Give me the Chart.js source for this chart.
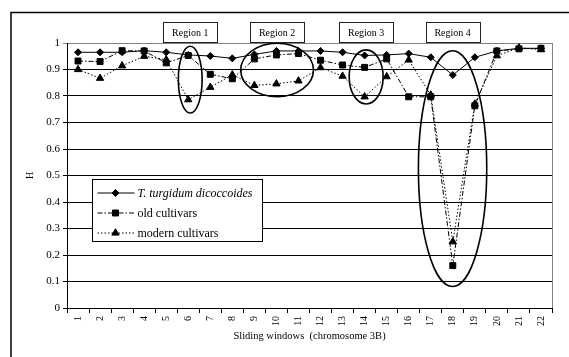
<!DOCTYPE html>
<html>
<head>
<meta charset="utf-8">
<script src="https://cdn.jsdelivr.net/npm/chart.js@4.4.1/dist/chart.umd.min.js"></script>
<style>
    html, body { margin: 0; padding: 0; background: #fff; }
    canvas { display: block; }
</style>
</head>
<body>
<canvas id="hChart" width="569" height="357"></canvas>
<script>
// sliding windows along chromosome 3B
const windows = ['1', '2', '3', '4', '5', '6', '7', '8', '9', '10', '11',
    '12', '13', '14', '15', '16', '17', '18', '19', '20', '21', '22'];

const turgidum = [0.965, 0.965, 0.965, 0.971, 0.965, 0.955, 0.951, 0.942, 0.957, 0.970, 0.970,
    0.970, 0.965, 0.953, 0.955, 0.960, 0.946, 0.879, 0.946, 0.970, 0.980, 0.980];
const oldCultivars = [0.932, 0.930, 0.971, 0.970, 0.925, 0.953, 0.882, 0.865, 0.940, 0.955, 0.960,
    0.935, 0.917, 0.908, 0.940, 0.797, 0.797, 0.160, 0.763, 0.970, 0.978, 0.980];
const modernCultivars = [0.900, 0.867, 0.914, 0.950, 0.937, 0.786, 0.833, 0.880, 0.840, 0.846, 0.857,
    0.907, 0.875, 0.797, 0.873, 0.936, 0.804, 0.250, 0.770, 0.952, 0.982, 0.975];

const seriesNames = ['T. turgidum dicoccoides', 'old cultivars', 'modern cultivars'];

// circled regions: window range and H range they enclose
const regionNames = ['Region 1', 'Region 2', 'Region 3', 'Region 4'];
const regionWinFrom = [5.55, 8.38, 13.30, 16.44];
const regionWinTo = [6.63, 11.68, 14.84, 19.54];
const regionHFrom = [0.736, 0.797, 0.770, 0.081];
const regionHTo = [0.988, 0.999, 0.974, 0.971];

const FONT = '"Liberation Serif", "Times New Roman", serif';

// рамка, регионы, легенда
const decorPlugin = {
    id: 'decor',
    beforeDraw(chart) {
        const ctx = chart.ctx;
        ctx.save();
        ctx.fillStyle = '#fff';
        ctx.fillRect(0, 0, chart.width, chart.height);
        ctx.strokeStyle = '#000';
        ctx.lineWidth = 1.5;
        ctx.strokeRect(11, 12.5, chart.width + 20, chart.height + 20);
        ctx.restore();
    },
    afterDraw(chart) {
        const ctx = chart.ctx;
        const area = chart.chartArea;
        const xs = chart.scales.x;
        const ys = chart.scales.y;
        ctx.save();

        // right border of plot area
        ctx.strokeStyle = '#808080';
        ctx.lineWidth = 1;
        ctx.beginPath();
        ctx.moveTo(Math.round(area.right) + 0.5, area.top);
        ctx.lineTo(Math.round(area.right) + 0.5, area.bottom);
        ctx.stroke();

        // ellipses + region labels
        regionNames.forEach((name, i) => {
            const x1 = xs.getPixelForValue(regionWinFrom[i] - 1);
            const x2 = xs.getPixelForValue(regionWinTo[i] - 1);
            const y1 = ys.getPixelForValue(regionHTo[i]);
            const y2 = ys.getPixelForValue(regionHFrom[i]);
            const cx = (x1 + x2) / 2;
            const cy = (y1 + y2) / 2;
            ctx.strokeStyle = '#000';
            ctx.lineWidth = 1.6;
            ctx.beginPath();
            ctx.ellipse(cx, cy, (x2 - x1) / 2, (y2 - y1) / 2, 0, 0, Math.PI * 2);
            ctx.stroke();

            const bw = 54, bh = 20;
            const bx = Math.round(cx - bw / 2) + 0.5;
            const by = Math.round(area.top - 21) + 0.5;
            ctx.fillStyle = '#fff';
            ctx.fillRect(bx, by, bw, bh);
            ctx.strokeStyle = '#222';
            ctx.lineWidth = 1;
            ctx.strokeRect(bx, by, bw, bh);
            ctx.fillStyle = '#000';
            ctx.font = '10px ' + FONT;
            ctx.textAlign = 'center';
            ctx.textBaseline = 'middle';
            ctx.fillText(name, cx, by + bh / 2 + 0.5);
        });

        // legend box
        const lx = Math.round(area.left + 25) + 0.5;
        const ly = Math.round(area.top + 136) + 0.5;
        const lw = 170, lh = 62;
        ctx.fillStyle = '#fff';
        ctx.fillRect(lx, ly, lw, lh);
        ctx.strokeStyle = '#000';
        ctx.lineWidth = 1;
        ctx.strokeRect(lx, ly, lw, lh);

        chart.data.datasets.forEach((ds, i) => {
            const yy = ly + 13.5 + i * 20;
            ctx.strokeStyle = '#000';
            ctx.lineWidth = 1;
            ctx.setLineDash(ds.borderDash || []);
            ctx.beginPath();
            ctx.moveTo(lx + 5, yy);
            ctx.lineTo(lx + 42, yy);
            ctx.stroke();
            ctx.setLineDash([]);
            Chart.helpers.drawPoint(ctx, {
                pointStyle: ds.pointStyle,
                radius: ds.pointRadius,
                rotation: 0,
                borderWidth: 1
            }, lx + 23, yy);
            ctx.fillStyle = '#000';
            ctx.fill();
            ctx.font = (i === 0 ? 'italic ' : '') + '12px ' + FONT;
            ctx.textAlign = 'left';
            ctx.textBaseline = 'middle';
            ctx.fillText(ds.label, lx + 45, yy + 0.5);
        });

        ctx.restore();
    }
};

function makeSeries(label, values, style, radius, dash) {
    return {
        label: label,
        data: values,
        borderColor: '#000',
        backgroundColor: '#000',
        borderWidth: 1,
        borderDash: dash,
        pointStyle: style,
        pointRadius: radius,
        pointHoverRadius: radius,
        pointBorderWidth: 1,
        pointBackgroundColor: '#000',
        pointBorderColor: '#000',
        tension: 0,
        fill: false
    };
}

new Chart(document.getElementById('hChart'), {
    type: 'line',
    data: {
        labels: windows,
        datasets: [
            makeSeries(seriesNames[0], turgidum, 'rectRot', 3.5, []),
            makeSeries(seriesNames[1], oldCultivars, 'rect', 4.2, [5, 2, 1.5, 2]),
            makeSeries(seriesNames[2], modernCultivars, 'triangle', 4.2, [1.5, 2])
        ]
    },
    options: {
        responsive: false,
        animation: false,
        devicePixelRatio: 1,
        layout: { padding: { left: 24, right: 17, top: 43, bottom: 12 } },
        plugins: {
            legend: { display: false },
            tooltip: { enabled: false }
        },
        scales: {
            x: {
                type: 'category',
                offset: true,
                afterFit: (s) => { s.height = 37; },
                grid: {
                    offset: true,
                    drawOnChartArea: false,
                    drawTicks: true,
                    tickLength: 5,
                    color: '#000'
                },
                border: { display: true, color: '#000', width: 1 },
                ticks: {
                    minRotation: 90,
                    maxRotation: 90,
                    autoSkip: false,
                    padding: 3,
                    color: '#000',
                    font: { family: FONT, size: 10 }
                },
                title: {
                    display: true,
                    text: 'Sliding windows  (chromosome 3B)',
                    color: '#000',
                    font: { family: FONT, size: 10.5 },
                    padding: { top: 0, bottom: 2 }
                }
            },
            y: {
                min: 0,
                max: 1,
                afterFit: (s) => { s.width = 43; },
                grid: {
                    color: (c) => (c.tick && c.tick.value === 1 ? '#808080' : '#000'),
                    lineWidth: 1,
                    tickLength: 4
                },
                border: { display: true, color: '#000', width: 1 },
                ticks: {
                    stepSize: 0.1,
                    padding: 3,
                    color: '#000',
                    font: { family: FONT, size: 11 },
                    callback: (v) => String(Math.round(v * 10) / 10)
                },
                title: {
                    display: true,
                    text: 'H',
                    color: '#000',
                    font: { family: FONT, size: 10 },
                    padding: { top: 0, bottom: 0 }
                }
            }
        }
    },
    plugins: [decorPlugin]
});
</script>
</body>
</html>
